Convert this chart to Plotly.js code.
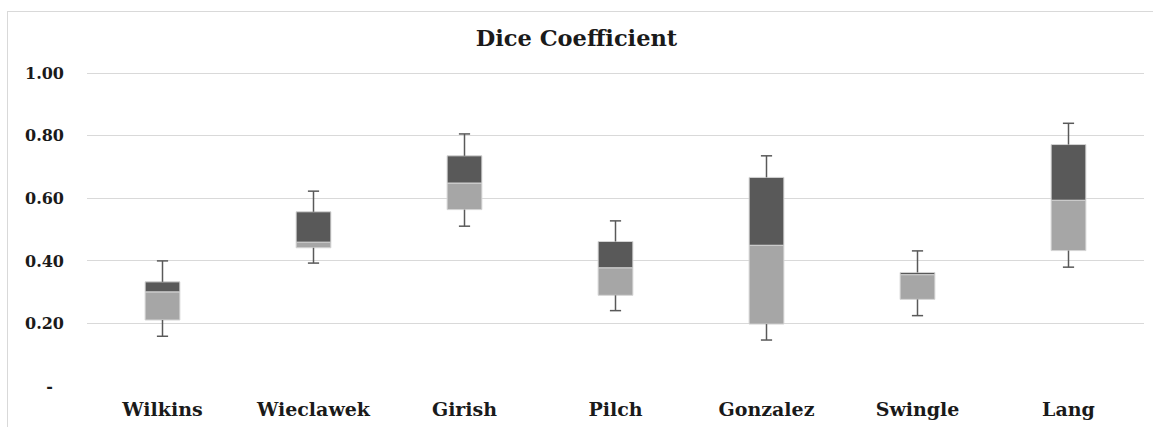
<!DOCTYPE html>
<html>
<head>
<meta charset="utf-8">
<script src="https://cdn.plot.ly/plotly-3.0.1.min.js"></script>
<style>
  html, body { margin: 0; padding: 0; background: #fff; }
  #wrap { position: relative; width: 1153px; height: 427px; overflow: hidden; }
  #chart { width: 1153px; height: 427px; }
  #frame { position: absolute; left: 7px; top: 11px; width: 1200px; height: 500px;
           border: 1px solid #d9d9d9; pointer-events: none; }
</style>
</head>
<body>
<div id="wrap">
  <div id="chart"></div>
  <div id="frame"></div>
</div>
<script>
const categories = ["Wilkins", "Wieclawek", "Girish", "Pilch", "Gonzalez", "Swingle", "Lang"];
const minVals    = [0.159, 0.393, 0.511, 0.241, 0.147, 0.225, 0.380];
const q1Vals     = [0.211, 0.442, 0.564, 0.290, 0.198, 0.277, 0.433];
const medianVals = [0.301, 0.460, 0.649, 0.378, 0.450, 0.356, 0.594];
const q3Vals     = [0.333, 0.557, 0.736, 0.462, 0.667, 0.363, 0.772];
const maxVals    = [0.400, 0.623, 0.806, 0.528, 0.736, 0.432, 0.840];
const yTickVals  = [0, 0.2, 0.4, 0.6, 0.8, 1.0];
const yTickText  = ["-\u00a0\u00a0", "0.20", "0.40", "0.60", "0.80", "1.00"];

const DARK = "#595959", LIGHT = "#a6a6a6", EDGE = "#d4d4d4";
const FONT = "DejaVu Serif";

const lowerBox = {
  type: "bar", x: categories,
  base: q1Vals, y: medianVals.map((m, i) => m - q1Vals[i]),
  marker: { color: LIGHT, line: { color: EDGE, width: 1 } },
  hoverinfo: "skip", showlegend: false
};
const upperBox = {
  type: "bar", x: categories,
  base: medianVals, y: q3Vals.map((q, i) => q - medianVals[i]),
  marker: { color: DARK, line: { color: EDGE, width: 1 } },
  hoverinfo: "skip", showlegend: false
};

// whisker stems (outside the boxes only)
const wx = [], wy = [];
categories.forEach((c, i) => {
  wx.push(c, c, null, c, c, null);
  wy.push(q3Vals[i], maxVals[i], null, minVals[i], q1Vals[i], null);
});
const stems = {
  type: "scatter", mode: "lines", x: wx, y: wy,
  line: { color: DARK, width: 1.5 }, hoverinfo: "skip", showlegend: false,
  connectgaps: false
};
const caps = {
  type: "scatter", mode: "markers",
  x: categories.concat(categories), y: maxVals.concat(minVals),
  marker: { symbol: "line-ew", size: 8, line: { color: DARK, width: 1.5 } },
  hoverinfo: "skip", showlegend: false
};

const layout = {
  width: 1153, height: 427,
  margin: { l: 87, r: 9, t: 67, b: 41 },
  paper_bgcolor: "#fff", plot_bgcolor: "#fff",
  barmode: "overlay", bargap: 0.77,
  title: { text: "<b>Dice Coefficient</b>", font: { family: FONT, size: 22.5, color: "#1a1a1a" },
           x: 0.5, xanchor: "center", y: 0.91, yanchor: "middle" },
  xaxis: {
    type: "category", showgrid: false, zeroline: false, showline: false, ticks: "",
    tickfont: { family: FONT, size: 19, color: "#1a1a1a", weight: "bold" },
    ticklabelstandoff: 10
  },
  yaxis: {
    range: [0, 1.02], tickvals: yTickVals, ticktext: yTickText,
    showgrid: true, gridcolor: "#d9d9d9", gridwidth: 1, zeroline: false, showline: false, ticks: "",
    tickfont: { family: FONT, size: 16, color: "#1a1a1a", weight: "bold" },
    ticklabelstandoff: 22
  }
};

Plotly.newPlot("chart", [lowerBox, upperBox, stems, caps], layout, { staticPlot: true, displayModeBar: false });
</script>
</body>
</html>
